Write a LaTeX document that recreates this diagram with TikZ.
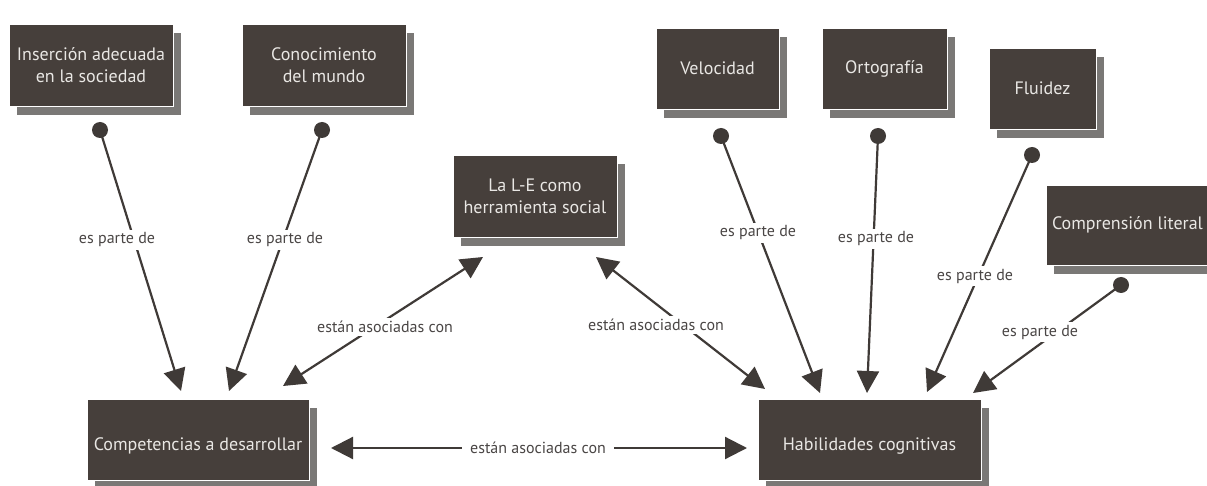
\documentclass[tikz,border=0pt]{standalone}
\usepackage{fontspec}
\setmainfont{PT Sans}
\usetikzlibrary{arrows.meta,calc}
\definecolor{boxfill}{HTML}{463F3B}
\definecolor{shgray}{HTML}{7A7876}
\definecolor{boxtext}{HTML}{E9E7E4}
\definecolor{linecol}{HTML}{3F3A37}
\definecolor{labcol}{HTML}{4A4645}
\tikzset{
  concept/.style={draw=white, line width=0.8pt, fill=boxfill, text=boxtext,
    font=\fontsize{18}{22}\selectfont, align=center, inner sep=1pt,
    preaction={draw=none, fill=shgray, transform canvas={xshift=8pt,yshift=-9pt}}},
  lowtext/.style={text height=22pt, text depth=0pt},
  dotend/.style={circle, fill=linecol, inner sep=0pt, minimum size=16pt},
  conn/.style={draw=linecol, line width=2.2pt, -{Triangle[length=22pt,width=22pt]}},
  biconn/.style={draw=linecol, line width=2.2pt, {Triangle[length=22pt,width=22pt]}-{Triangle[length=22pt,width=22pt]}},
  lab/.style={fill=white, text=labcol, font=\fontsize{16}{18}\selectfont, inner sep=3pt}
}
\begin{document}
\begin{tikzpicture}[x=1pt,y=-1pt]
\useasboundingbox (0,0) rectangle (1207,486);
\fill[white] (0,0) rectangle (1207,486);
% concept boxes
\node[concept, minimum width=164pt, minimum height=82pt] (ins) at (91,65) {Inserción adecuada\\en la sociedad};
\node[concept, minimum width=164pt, minimum height=82pt] (con) at (324,65) {Conocimiento\\del mundo};
\node[concept, minimum width=164pt, minimum height=82pt] (le) at (535,196) {La L-E como\\herramienta social};
\node[concept, minimum width=123pt, minimum height=81pt] (vel) at (717.5,68.5) {Velocidad};
\node[concept, minimum width=125pt, minimum height=81pt] (ort) at (884.5,68.5) {Ortografía};
\node[concept, minimum width=107pt, minimum height=81pt] (flu) at (1042.5,88.5) {Fluidez};
\node[concept, minimum width=163pt, minimum height=80pt] (cl) at (1127.5,225) {Comprensión literal};
\node[concept, lowtext, minimum width=222pt, minimum height=81pt] (cd) at (198,439.5) {Competencias a desarrollar};
\node[concept, lowtext, minimum width=223pt, minimum height=81pt] (hc) at (869.5,439.5) {Habilidades cognitivas};
% dot ends
\node[dotend] (dins) at (100,130) {};
\node[dotend] (dcon) at (322,130) {};
\node[dotend] (dvel) at (721,136) {};
\node[dotend] (dort) at (878,136) {};
\node[dotend] (dflu) at (1032,155) {};
\node[dotend] (dcl) at (1121,285) {};
% arrow tip coordinates
\coordinate (tins) at (181,391);
\coordinate (tcon) at (229,391);
\coordinate (tvel) at (820,393);
\coordinate (tort) at (867,393);
\coordinate (tflu) at (927,392);
\coordinate (tcl) at (973,393);
\coordinate (cdA) at (283,386);
\coordinate (leA) at (483,257);
\coordinate (leB) at (596,257);
\coordinate (hcB) at (765,389);
\coordinate (cdC) at (331,448);
\coordinate (hcC) at (747,448);
% connectors
\draw[conn] (dins.center) -- (tins);
\draw[conn] (dcon.center) -- (tcon);
\draw[conn] (dvel.center) -- (tvel);
\draw[conn] (dort.center) -- (tort);
\draw[conn] (dflu.center) -- (tflu);
\draw[conn] (dcl.center) -- (tcl);
\draw[biconn] (cdA) -- (leA);
\draw[biconn] (leB) -- (hcB);
\draw[biconn] (cdC) -- (hcC);
% labels
\node[lab] at (117,240) {es parte de};
\node[lab] at (285,240) {es parte de};
\node[lab] at (758,233) {es parte de};
\node[lab] at (876,239) {es parte de};
\node[lab] at (975,276) {es parte de};
\node[lab] at (1040,332) {es parte de};
\node[lab] at (385,327) {están asociadas con};
\node[lab] at (656,325) {están asociadas con};
\node[lab, inner xsep=8pt] at (538,448) {están asociadas con};
\end{tikzpicture}
\end{document}
